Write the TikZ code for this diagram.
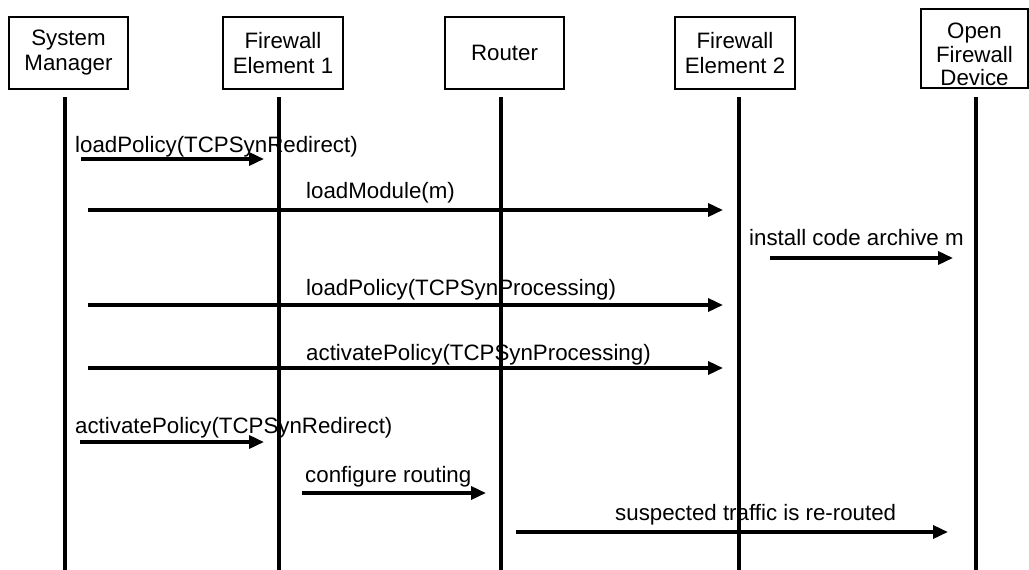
\documentclass[tikz,border=0pt]{standalone}
\usepackage{fontspec}
\setmainfont{Liberation Sans}
\usetikzlibrary{arrows.meta,calc}
\begin{document}
\begin{tikzpicture}[x=1pt,y=-1pt,
  actor/.style={draw,line width=1.1pt,inner sep=0pt,align=center,
    font=\fontsize{22.3}{25}\selectfont},
  lifeline/.style={line width=4pt},
  msg/.style={line width=3.5pt,-{Triangle[length=15pt,width=13pt]}},
  msglabel/.style={anchor=base west,inner sep=0pt,font=\fontsize{22.3}{25}\selectfont}]
\useasboundingbox (0,0) rectangle (1029,570);
% actors
\node[actor,minimum width=119pt,minimum height=72pt] (sm) at (68.5,53) {System\\Manager};
\node[actor,minimum width=120pt,minimum height=72pt] (fe1) at (283,53) {Firewall\\Element 1};
\node[actor,minimum width=119pt,minimum height=72pt] (rt) at (504.5,53) {Router};
\node[actor,minimum width=120pt,minimum height=72pt] (fe2) at (735,53) {Firewall\\Element 2};
\node[actor,minimum width=107pt,minimum height=79pt] (ofd) at (974.5,48.5) {};
\node[align=center,inner sep=0pt,font=\fontsize{22.3}{23.5}\selectfont] (ofdt) at (974.5,54.5) {Open\\Firewall\\Device};
% lifelines
\coordinate (smT) at (65,97);   \coordinate (smB) at (65,570);
\coordinate (fe1T) at (279,97); \coordinate (fe1B) at (279,570);
\coordinate (rtT) at (501,97);  \coordinate (rtB) at (501,570);
\coordinate (fe2T) at (739,97); \coordinate (fe2B) at (739,570);
\coordinate (ofdT) at (976,97); \coordinate (ofdB) at (976,570);
\foreach \l in {sm,fe1,rt,fe2,ofd} \draw[lifeline] (\l T) -- (\l B);
% message endpoints
\coordinate (m1s) at (81,159);  \coordinate (m1e) at (264,159);
\coordinate (m2s) at (88,210);  \coordinate (m2e) at (723,210);
\coordinate (m3s) at (770,258); \coordinate (m3e) at (953,258);
\coordinate (m4s) at (88,305);  \coordinate (m4e) at (723,305);
\coordinate (m5s) at (88,368);  \coordinate (m5e) at (723,368);
\coordinate (m6s) at (80,442);  \coordinate (m6e) at (264,442);
\coordinate (m7s) at (302,493); \coordinate (m7e) at (486,493);
\coordinate (m8s) at (516,532); \coordinate (m8e) at (948,532);
\foreach \m in {1,...,8} \draw[msg] (m\m s) -- (m\m e);
% labels
\node[msglabel] (l1) at (75,152) {loadPolicy(TCPSynRedirect)};
\node[msglabel] (l2) at (306,198) {loadModule(m)};
\node[msglabel] (l3) at (749,245) {install code archive m};
\node[msglabel] (l4) at (306,295) {loadPolicy(TCPSynProcessing)};
\node[msglabel] (l5) at (306,360) {activatePolicy(TCPSynProcessing)};
\node[msglabel] (l6) at (75,433) {activatePolicy(TCPSynRedirect)};
\node[msglabel] (l7) at (305,482) {configure routing};
\node[msglabel] (l8) at (615,520) {suspected traffic is re-routed};
\end{tikzpicture}
\end{document}
